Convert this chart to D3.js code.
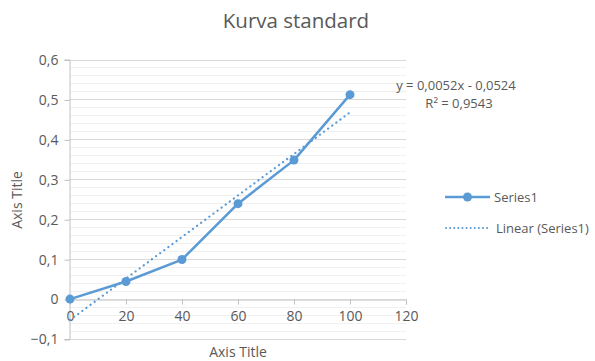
<!DOCTYPE html>
<html>
<head>
<meta charset="utf-8">
<script src="https://cdn.jsdelivr.net/npm/d3@7/dist/d3.min.js"></script>
<style>
  html, body { margin: 0; padding: 0; background: #fff; }
  svg text { font-family: "Open Sans", "Liberation Sans", sans-serif; fill: #595959; }
</style>
</head>
<body>
<svg id="chart" width="595" height="361"></svg>
<script>
// Standard curve measurements
const concentrations = [0, 20, 40, 60, 80, 100];
const absorbance = [0, 0.044, 0.099, 0.239, 0.348, 0.512];

// Linear trendline as reported
const trendSlope = 0.0052;
const trendIntercept = -0.0524;
const trendR2 = 0.9543;

const xTicks = [0, 20, 40, 60, 80, 100, 120];
const yTicks = [-0.1, 0, 0.1, 0.2, 0.3, 0.4, 0.5, 0.6];

const chartTitle = "Kurva standard";
const xAxisTitle = "Axis Title";
const yAxisTitle = "Axis Title";
const seriesName = "Series1";
const trendName = "Linear (Series1)";

const fmt = v => d3.format("")(v).replace(".", ",");
const fmtTick = v => (v === 0 ? "0" : d3.format(".1f")(v).replace(".", ","));

const svg = d3.select("#chart");
const color = "#5b9bd5";

const x = d3.scaleLinear().domain([0, 120]).range([70, 406]);
const y = d3.scaleLinear().domain([-0.1, 0.6]).range([339, 59.5]);

// Minor gridlines every 0.02
const minor = d3.range(-0.1, 0.6001, 0.02).map(v => +v.toFixed(2));
svg.append("g").selectAll("line").data(minor).join("line")
  .attr("x1", x(0)).attr("x2", x(120))
  .attr("y1", d => Math.round(y(d)) + 0.5).attr("y2", d => Math.round(y(d)) + 0.5)
  .attr("stroke", "#f0f0f0").attr("stroke-width", 1);

// Major gridlines
svg.append("g").selectAll("line").data(yTicks.filter(d => d !== 0)).join("line")
  .attr("x1", x(0)).attr("x2", x(120))
  .attr("y1", d => Math.round(y(d)) + 0.5).attr("y2", d => Math.round(y(d)) + 0.5)
  .attr("stroke", "#d9d9d9").attr("stroke-width", 1);

// Y axis (left), ticks outward
const yAxis = d3.axisLeft(y).tickValues(yTicks).tickSize(5).tickPadding(6).tickFormat(fmtTick);
const gy = svg.append("g").attr("transform", `translate(${x(0) - 0.5},0)`).call(yAxis);
gy.select(".domain").attr("stroke", "#bfbfbf");
gy.selectAll(".tick line").attr("stroke", "#bfbfbf").attr("transform", "translate(0,0.5)");
gy.selectAll(".tick text").style("font-size", "14px").attr("fill", "#595959").attr("dy", "0.35em");

// X axis crossing at y = 0, ticks downward
const xAxis = d3.axisBottom(x).tickValues(xTicks).tickSize(5).tickPadding(7).tickFormat(d => d);
const gx = svg.append("g").attr("transform", `translate(0,${Math.round(y(0)) + 0.5})`).call(xAxis);
gx.select(".domain").attr("stroke", "#bfbfbf");
gx.selectAll(".tick line").attr("stroke", "#bfbfbf");
gx.selectAll(".tick text").style("font-size", "14px").attr("fill", "#595959");

// Trendline from the reported equation
const trendData = [0, 100].map(c => [c, trendSlope * c + trendIntercept]);
svg.append("path")
  .datum(trendData)
  .attr("d", d3.line().x(d => x(d[0])).y(d => y(d[1])))
  .attr("fill", "none").attr("stroke", color).attr("stroke-width", 2.2)
  .attr("stroke-linecap", "round").attr("stroke-dasharray", "0.1 5");

// Data series
const pts = concentrations.map((c, i) => [c, absorbance[i]]);
svg.append("path")
  .datum(pts)
  .attr("d", d3.line().x(d => x(d[0])).y(d => y(d[1])))
  .attr("fill", "none").attr("stroke", color).attr("stroke-width", 2.5)
  .attr("stroke-linejoin", "round");
svg.append("g").selectAll("circle").data(pts).join("circle")
  .attr("cx", d => x(d[0])).attr("cy", d => y(d[1])).attr("r", 4.5)
  .attr("fill", color);

// Trendline equation
svg.append("text").attr("x", 456).attr("y", 90).attr("text-anchor", "middle")
  .style("font-size", "13px")
  .text(`y = ${fmt(trendSlope)}x - ${fmt(-trendIntercept)}`);
svg.append("text").attr("x", 459).attr("y", 108).attr("text-anchor", "middle")
  .style("font-size", "13px")
  .text(`R² = ${fmt(trendR2)}`);

// Title
svg.append("text").attr("x", 296).attr("y", 28).attr("text-anchor", "middle")
  .style("font-size", "20.5px").text(chartTitle);

// Axis titles
svg.append("text").attr("x", 238).attr("y", 357).attr("text-anchor", "middle")
  .style("font-size", "14px").text(xAxisTitle);
svg.append("text").attr("transform", "translate(22,200) rotate(-90)").attr("text-anchor", "middle")
  .style("font-size", "14px").text(yAxisTitle);

// Legend
const lg = svg.append("g");
lg.append("line").attr("x1", 445).attr("x2", 490).attr("y1", 197).attr("y2", 197)
  .attr("stroke", color).attr("stroke-width", 2.5);
lg.append("circle").attr("cx", 467.5).attr("cy", 197).attr("r", 4.5).attr("fill", color);
lg.append("text").attr("x", 494).attr("y", 201.5).style("font-size", "13px").text(seriesName);
lg.append("line").attr("x1", 446).attr("x2", 489).attr("y1", 228).attr("y2", 228)
  .attr("stroke", color).attr("stroke-width", 2).attr("stroke-linecap", "round")
  .attr("stroke-dasharray", "0.1 4");
lg.append("text").attr("x", 496).attr("y", 232.5).style("font-size", "13px").text(trendName);
</script>
</body>
</html>
